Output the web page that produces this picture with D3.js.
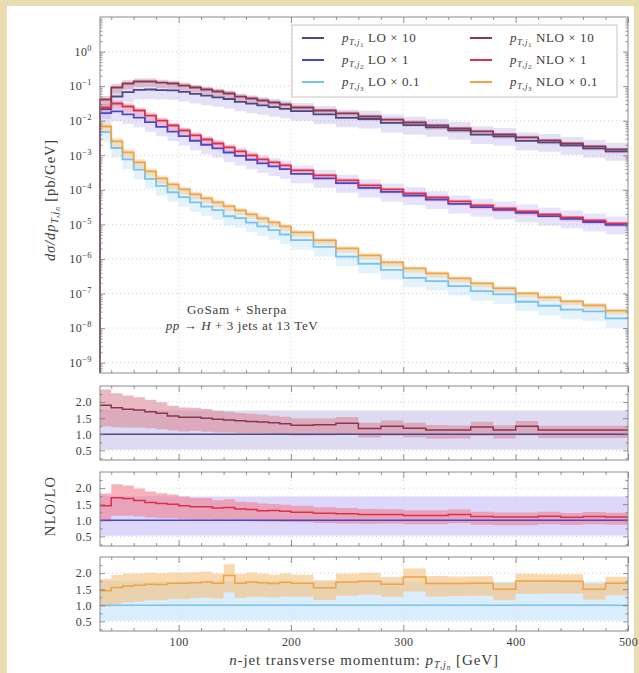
<!DOCTYPE html>
<html><head><meta charset="utf-8">
<script src="https://cdn.jsdelivr.net/npm/d3@7"></script>
<style>
body{margin:0;background:#e9ddb0;}
svg{display:block;}
text{font-family:"Liberation Serif","DejaVu Serif",serif;fill:#3c3c3c;}
</style></head><body>
<svg id="c" width="639" height="673"></svg>
<script>
// ---------------- data ----------------
const binEdges = [30,40,50,60,70,80,90,100,110,120,130,140,150,160,170,180,190,200,220,240,260,280,300,320,340,360,380,400,420,440,460,480,500];
const nloX10 = [0.0410,0.0912,0.119,0.136,0.136,0.127,0.119,0.104,0.0912,0.0798,0.0698,0.0611,0.0500,0.0438,0.0384,0.0336,0.0294,0.0241,0.0197,0.0162,0.0132,0.0108,0.00887,0.00727,0.00595,0.00488,0.00399,0.00327,0.00268,0.00219,0.00180,0.00147];
const loX10  = [0.0216,0.0501,0.0669,0.0777,0.0800,0.0770,0.0758,0.0680,0.0596,0.0532,0.0475,0.0424,0.0352,0.0313,0.0278,0.0247,0.0221,0.0188,0.0152,0.0121,0.0112,0.00864,0.00745,0.00643,0.00527,0.00397,0.00353,0.00262,0.00237,0.00194,0.00159,0.00130];
const nloX1  = [0.0241,0.0314,0.0257,0.0197,0.0141,0.0101,0.00727,0.00521,0.00374,0.00286,0.00219,0.00168,0.00129,0.000986,0.000756,0.000619,0.000507,0.000364,0.000261,0.000187,0.000134,0.000103,7.87e-5,6.03e-5,4.62e-5,3.54e-5,2.90e-5,2.38e-5,1.95e-5,1.59e-5,1.31e-5,1.07e-5];
const loX1   = [0.0166,0.0185,0.0153,0.0122,0.0091,0.00664,0.00485,0.00359,0.00263,0.00201,0.00159,0.00120,0.000956,0.000741,0.000582,0.000476,0.000396,0.000291,0.000214,0.000156,0.000114,8.73e-5,6.84e-5,5.24e-5,3.92e-5,3.16e-5,2.64e-5,2.16e-5,1.73e-5,1.45e-5,1.17e-5,9.73e-6];
const nloX01 = [6.80e-3,2.51e-3,1.21e-3,6.19e-4,3.40e-4,2.14e-4,1.43e-4,1.03e-4,7.36e-5,5.64e-5,4.32e-5,3.31e-5,2.54e-5,1.95e-5,1.49e-5,1.14e-5,8.75e-6,5.87e-6,3.45e-6,2.02e-6,1.27e-6,7.97e-7,5.35e-7,3.84e-7,2.75e-7,1.97e-7,1.41e-7,1.01e-7,7.76e-8,5.95e-8,4.56e-8,3.20e-8];
const loX01  = [4.69e-3,1.62e-3,7.56e-4,3.82e-4,2.06e-4,1.30e-4,8.51e-5,6.13e-5,4.33e-5,3.28e-5,2.57e-5,1.72e-5,1.51e-5,1.13e-5,8.76e-6,6.79e-6,5.09e-6,3.49e-6,2.23e-6,1.17e-6,7.26e-7,4.83e-7,2.85e-7,2.29e-7,1.64e-7,1.17e-7,9.40e-8,5.77e-8,4.43e-8,3.40e-8,3.04e-8,1.90e-8];
// relative scale-uncertainty envelopes
const nloUncUp   = [1.26,1.25,1.24,1.23,1.22,1.21,1.20,1.20,1.19,1.19,1.18,1.18,1.17,1.17,1.17,1.16,1.16,1.16,1.15,1.15,1.15,1.14,1.14,1.14,1.13,1.13,1.13,1.13,1.12,1.12,1.12,1.12];
const nloUncDown = [0.66,0.67,0.68,0.69,0.70,0.70,0.71,0.71,0.72,0.72,0.72,0.73,0.73,0.73,0.74,0.74,0.74,0.75,0.75,0.75,0.76,0.76,0.76,0.76,0.77,0.77,0.77,0.77,0.78,0.78,0.78,0.78];
const loUncUp    = [1.76,1.76,1.75,1.75,1.75,1.75,1.74,1.74,1.74,1.74,1.74,1.74,1.74,1.74,1.74,1.74,1.74,1.74,1.74,1.74,1.74,1.74,1.74,1.74,1.74,1.74,1.74,1.74,1.74,1.74,1.74,1.74];
const loUncDown  = [0.52,0.52,0.52,0.53,0.53,0.53,0.53,0.53,0.53,0.53,0.53,0.53,0.53,0.53,0.53,0.53,0.53,0.53,0.53,0.53,0.53,0.53,0.53,0.53,0.53,0.53,0.53,0.53,0.53,0.53,0.53,0.53];
const xMajorTicks = [100,200,300,400,500];
const xMinorTicks = [40,60,80,120,140,160,180,220,240,260,280,320,340,360,380,420,440,460,480];
const yDecades = [-9,-8,-7,-6,-5,-4,-3,-2,-1,0];
const ratioTicks = [0.5,1.0,1.5,2.0];
const ratioMinor = [0.25,0.75,1.25,1.75,2.25];
const legendLabels = [["1","LO × 10"],["2","LO × 1"],["3","LO × 0.1"],["1","NLO × 10"],["2","NLO × 1"],["3","NLO × 0.1"]];

// ---------------- layout ----------------
const W=639,H=673;
const svg=d3.select('#c');
svg.append('rect').attr('width',W).attr('height',H).attr('fill','#e9ddb0');
svg.append('rect').attr('x',7).attr('y',6).attr('width',627).attr('height',667).attr('fill','#fff');

const L=100,R=628;
const x=d3.scaleLinear().domain([30,500]).range([L,R]);
const main={top:17,bottom:373};
const y=d3.scaleLog().domain([Math.pow(10,-9.3),10]).range([main.bottom,main.top]);
const panels=[{top:386,bottom:460},{top:472,bottom:546},{top:557,bottom:631}];

const series=[
 {lo:loX10,nlo:nloX10,loC:'#4b4889',nloC:'#8b3550',loBand:'#9d93e0',nloBand:'#c97c8e',rLoBand:'#d8d4f0',rNloBand:'#d98a98'},
 {lo:loX1,nlo:nloX1,loC:'#4747cc',nloC:'#dd2f4c',loBand:'#a99cf5',nloBand:'#f08a9c',rLoBand:'#d6d0fa',rNloBand:'#f0808f'},
 {lo:loX01,nlo:nloX01,loC:'#78c2ef',nloC:'#f0a244',loBand:'#9fd2f5',nloBand:'#f6c47c',rLoBand:'#d3eafb',rNloBand:'#f5c07c'}
];

function stepPts(vals,startVal){
  const p=[];
  if(startVal!==undefined) p.push([binEdges[0],startVal]);
  vals.forEach((v,i)=>{p.push([binEdges[i],v]);p.push([binEdges[i+1],v]);});
  return p;
}
function bandPts(lo,hi){
  const p=[];
  lo.forEach((v,i)=>{p.push([binEdges[i],v,hi[i]]);p.push([binEdges[i+1],v,hi[i]]);});
  return p;
}

const defs=svg.append('defs');
function clip(id,top,bottom){
  defs.append('clipPath').attr('id',id).append('rect').attr('x',L-1.5).attr('y',top).attr('width',R-L+1.5).attr('height',bottom-top);
}
clip('cm',main.top,main.bottom);
panels.forEach((p,i)=>clip('cp'+i,p.top,p.bottom));

function grid(g,ys,yvals,top,bottom){
  g.selectAll('.gx').data([100,200,300,400]).join('line').attr('x1',d=>x(d)).attr('x2',d=>x(d)).attr('y1',top).attr('y2',bottom)
   .attr('stroke','#c8c8c8').attr('stroke-width',0.8).attr('stroke-dasharray','1,3');
  g.selectAll('.gy').data(yvals).join('line').attr('x1',L).attr('x2',R).attr('y1',d=>ys(d)).attr('y2',d=>ys(d))
   .attr('stroke','#c8c8c8').attr('stroke-width',0.8).attr('stroke-dasharray','1,3');
}

function styleAxis(g){
  g.select('.domain').remove();
  g.selectAll('.tick line').attr('stroke','#777').attr('stroke-width',0.8);
  g.selectAll('.tick text').attr('font-size',12).attr('fill','#444').attr('font-family','"Liberation Serif",serif').attr('letter-spacing',0.4);
}
function xAxes(top,bottom,labels){
  svg.append('g').attr('transform',`translate(0,${bottom})`)
    .call(d3.axisBottom(x).tickValues(xMajorTicks).tickSize(-6).tickPadding(6).tickFormat(labels?d3.format('d'):()=>''))
    .call(styleAxis);
  svg.append('g').attr('transform',`translate(0,${bottom})`)
    .call(d3.axisBottom(x).tickValues(xMinorTicks).tickSize(-3).tickFormat(()=>'')).call(styleAxis);
  svg.append('g').attr('transform',`translate(0,${top})`)
    .call(d3.axisTop(x).tickValues(xMajorTicks).tickSize(-6).tickFormat(()=>'')).call(styleAxis);
  svg.append('g').attr('transform',`translate(0,${top})`)
    .call(d3.axisTop(x).tickValues(xMinorTicks).tickSize(-3).tickFormat(()=>'')).call(styleAxis);
}
function frame(top,bottom){
  svg.append('rect').attr('x',L).attr('y',top).attr('width',R-L).attr('height',bottom-top)
    .attr('fill','none').attr('stroke','#8a8a8a').attr('stroke-width',1);
}

// ---------------- main panel ----------------
const mg=svg.append('g');
grid(mg,y,yDecades.map(e=>Math.pow(10,e)),main.top,main.bottom);
frame(main.top,main.bottom);
const pm=mg.append('g').attr('clip-path','url(#cm)');
const bandArea=(ys)=>d3.area().x(d=>x(d[0])).y0(d=>ys(d[1])).y1(d=>ys(d[2]));
const stepLine=(ys)=>d3.line().x(d=>x(d[0])).y(d=>ys(d[1]));
const ymin=y.domain()[0];
series.forEach(s=>{
  pm.append('path').attr('d',bandArea(y)(bandPts(s.lo.map((v,i)=>v*loUncDown[i]),s.lo.map((v,i)=>v*loUncUp[i]))))
    .attr('fill',s.loBand).attr('opacity',0.28);
});
series.forEach(s=>{
  pm.append('path').attr('d',bandArea(y)(bandPts(s.nlo.map((v,i)=>v*nloUncDown[i]),s.nlo.map((v,i)=>v*nloUncUp[i]))))
    .attr('fill',s.nloBand).attr('opacity',0.4);
});
series.slice().reverse().forEach(s=>{
  pm.append('path').attr('d',stepLine(y)(stepPts(s.lo,ymin))).attr('fill','none').attr('stroke',s.loC).attr('stroke-width',1.8);
});
series.slice().reverse().forEach(s=>{
  pm.append('path').attr('d',stepLine(y)(stepPts(s.nlo,ymin))).attr('fill','none').attr('stroke',s.nloC).attr('stroke-width',1.8);
});
// y axis main
const minorLog=[];
for(let e=-10;e<=0;e++){for(let k=2;k<=9;k++){const v=k*Math.pow(10,e); if(v>ymin && v<10) minorLog.push(v);}}
const yl=svg.append('g').attr('transform',`translate(${L},0)`)
  .call(d3.axisLeft(y).tickValues(yDecades.map(e=>Math.pow(10,e))).tickSize(-5).tickPadding(8).tickFormat(()=>''))
  .call(styleAxis);
yl.selectAll('.tick text').each(function(d){
  const e=Math.round(Math.log10(d));
  const t=d3.select(this);
  t.append('tspan').text('10');
  t.append('tspan').attr('dy',-5).attr('font-size',8.5).text(e===0?'0':'−'+(-e));
});
svg.append('g').attr('transform',`translate(${L},0)`)
  .call(d3.axisLeft(y).tickValues(minorLog).tickSize(-2.5).tickFormat(()=>'')).call(styleAxis);
svg.append('g').attr('transform',`translate(${R},0)`)
  .call(d3.axisRight(y).tickValues(yDecades.map(e=>Math.pow(10,e))).tickSize(-5).tickFormat(()=>'')).call(styleAxis);
svg.append('g').attr('transform',`translate(${R},0)`)
  .call(d3.axisRight(y).tickValues(minorLog).tickSize(-2.5).tickFormat(()=>'')).call(styleAxis);
xAxes(main.top,main.bottom,false);

// legend
const lg=svg.append('g');
lg.append('rect').attr('x',292).attr('y',25).attr('width',325).attr('height',72).attr('fill','#fff').attr('stroke','#c4c4c4').attr('stroke-width',1);
const legColors=[series[0].loC,series[1].loC,series[2].loC,series[0].nloC,series[1].nloC,series[2].nloC];
legendLabels.forEach((lab,i)=>{
  const col=i<3?0:1, row=i%3;
  const lx=col===0?302:470, ly=38+row*22;
  lg.append('line').attr('x1',lx).attr('x2',lx+22).attr('y1',ly).attr('y2',ly).attr('stroke',legColors[i]).attr('stroke-width',2);
  const t=lg.append('text').attr('x',lx+40).attr('y',ly+4).attr('font-size',13).attr('letter-spacing',0.6);
  t.append('tspan').attr('font-style','italic').text('p');
  t.append('tspan').attr('font-size',9).attr('dy',3).attr('font-style','italic').text('T,j');
  t.append('tspan').attr('font-size',7).attr('dy',1.5).text(lab[0]);
  t.append('tspan').attr('dy',-4.5).text('  '+lab[1]);
});

// annotation
const an=svg.append('g');
an.append('text').attr('x',237).attr('y',314).attr('text-anchor','middle').attr('font-size',13).attr('letter-spacing',0.8).text('GoSam + Sherpa');
const a2=an.append('text').attr('x',242).attr('y',330).attr('text-anchor','middle').attr('font-size',13).attr('letter-spacing',0.6);
a2.append('tspan').attr('font-style','italic').text('pp');
a2.append('tspan').text(' → ');
a2.append('tspan').attr('font-style','italic').text('H');
a2.append('tspan').text(' + 3 jets at 13 TeV');

// y label main
const ylab=svg.append('text').attr('transform','translate(55,200) rotate(-90)').attr('text-anchor','middle').attr('font-size',14.5).attr('letter-spacing',0.9);
ylab.append('tspan').attr('font-style','italic').text('dσ/dp');
ylab.append('tspan').attr('font-size',10).attr('dy',3).attr('font-style','italic').text('T,j');
ylab.append('tspan').attr('font-size',7.5).attr('dy',1.5).attr('font-style','italic').text('n');
ylab.append('tspan').attr('dy',-4.5).text('  [pb/GeV]');

// ---------------- ratio panels ----------------
panels.forEach((p,i)=>{
  const s=series[i];
  const yr=d3.scaleLinear().domain([0.2,2.5]).range([p.bottom,p.top]);
  const g=svg.append('g');
  grid(g,yr,ratioTicks,p.top,p.bottom);
  frame(p.top,p.bottom);
  const pc=g.append('g').attr('clip-path',`url(#cp${i})`);
  pc.append('path').attr('d',bandArea(yr)(bandPts(loUncDown,loUncUp))).attr('fill',s.rLoBand).attr('opacity',0.85);
  const rc=s.nlo.map((v,k)=>v/s.lo[k]);
  pc.append('path').attr('d',bandArea(yr)(bandPts(rc.map((v,k)=>v*nloUncDown[k]),rc.map((v,k)=>v*nloUncUp[k]))))
    .attr('fill',s.rNloBand).attr('opacity',0.6);
  pc.append('path').attr('d',stepLine(yr)(stepPts(s.lo.map(()=>1)))).attr('fill','none').attr('stroke',s.loC).attr('stroke-width',1.6);
  pc.append('path').attr('d',stepLine(yr)(stepPts(rc))).attr('fill','none').attr('stroke',s.nloC).attr('stroke-width',1.5);
  svg.append('g').attr('transform',`translate(${L},0)`)
    .call(d3.axisLeft(yr).tickValues(ratioTicks).tickSize(-5).tickPadding(8).tickFormat(d3.format('.1f'))).call(styleAxis);
  svg.append('g').attr('transform',`translate(${L},0)`)
    .call(d3.axisLeft(yr).tickValues(ratioMinor).tickSize(-2.5).tickFormat(()=>'')).call(styleAxis);
  svg.append('g').attr('transform',`translate(${R},0)`)
    .call(d3.axisRight(yr).tickValues(ratioTicks).tickSize(-5).tickFormat(()=>'')).call(styleAxis);
  svg.append('g').attr('transform',`translate(${R},0)`)
    .call(d3.axisRight(yr).tickValues(ratioMinor).tickSize(-2.5).tickFormat(()=>'')).call(styleAxis);
  xAxes(p.top,p.bottom,i===2);
});

svg.append('text').attr('transform','translate(55,506) rotate(-90)').attr('text-anchor','middle').attr('font-size',14.5).attr('letter-spacing',1.2).text('NLO/LO');

// x title
const xt=svg.append('text').attr('x',364).attr('y',665).attr('text-anchor','middle').attr('font-size',15).attr('letter-spacing',0.9);
xt.append('tspan').attr('font-style','italic').text('n');
xt.append('tspan').text('-jet transverse momentum:  ');
xt.append('tspan').attr('font-style','italic').text('p');
xt.append('tspan').attr('font-size',10).attr('dy',3).attr('font-style','italic').text('T,j');
xt.append('tspan').attr('font-size',7.5).attr('dy',1.5).attr('font-style','italic').text('n');
xt.append('tspan').attr('dy',-4.5).text('  [GeV]');
</script>
</body></html>
